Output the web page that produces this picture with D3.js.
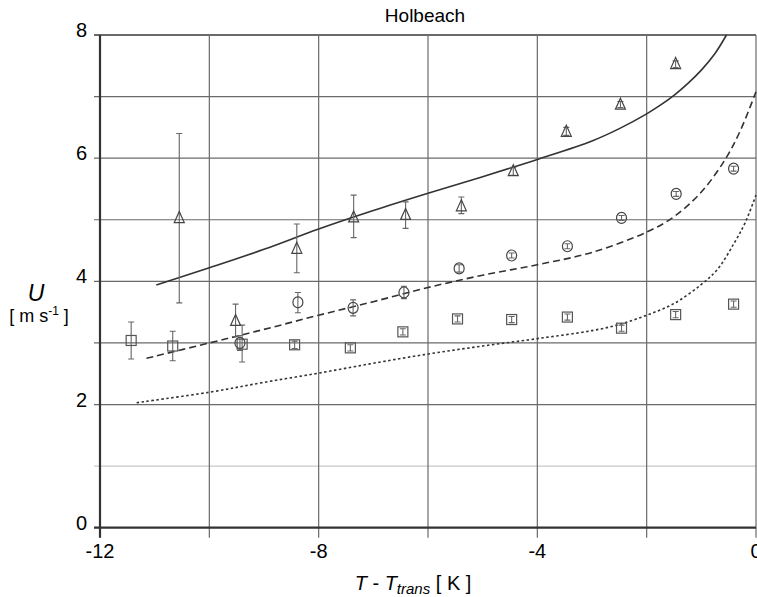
<!DOCTYPE html>
<html>
<head>
<meta charset="utf-8">
<script src="https://cdn.jsdelivr.net/npm/d3@7"></script>
<style>
	body { margin: 0; background: #fff; }
	svg { display: block; font-family: "Liberation Sans", Arial, sans-serif; }
</style>
</head>
<body>
<svg id="chart" width="757" height="597"></svg>
<script>
// measured points: [x, U, lo, hi]
let triangles = [
	[-10.55, 5.02, 3.65, 6.40],
	[-9.52, 3.35, 3.10, 3.63],
	[-8.40, 4.52, 4.14, 4.93],
	[-7.36, 5.03, 4.71, 5.40],
	[-6.41, 5.07, 4.86, 5.29],
	[-5.39, 5.21, 5.10, 5.37],
	[-4.44, 5.78, 5.72, 5.85],
	[-3.47, 6.42, 6.37, 6.50],
	[-2.48, 6.86, 6.82, 6.92],
	[-1.47, 7.52, 7.47, 7.58]
];
let circles = [
	[-9.44, 3.00, 2.88, 3.12],
	[-8.38, 3.66, 3.49, 3.82],
	[-7.37, 3.57, 3.44, 3.70],
	[-6.44, 3.82, 3.72, 3.92],
	[-5.43, 4.21, 4.15, 4.27],
	[-4.47, 4.42, 4.38, 4.46],
	[-3.45, 4.57, 4.53, 4.61],
	[-2.46, 5.03, 4.99, 5.07],
	[-1.46, 5.42, 5.38, 5.46],
	[-0.41, 5.83, 5.79, 5.87]
];
let squares = [
	[-11.43, 3.04, 2.74, 3.34],
	[-10.67, 2.95, 2.71, 3.19],
	[-9.40, 2.98, 2.69, 3.29],
	[-8.44, 2.97, 2.91, 3.03],
	[-7.42, 2.92, 2.87, 2.97],
	[-6.46, 3.18, 3.13, 3.23],
	[-5.46, 3.39, 3.34, 3.44],
	[-4.47, 3.38, 3.33, 3.43],
	[-3.45, 3.42, 3.37, 3.47],
	[-2.46, 3.24, 3.19, 3.29],
	[-1.47, 3.46, 3.41, 3.51],
	[-0.41, 3.63, 3.58, 3.68]
];

// model curves
let solid_curve = [[-10.97, 3.94], [-10, 4.22], [-9, 4.52], [-8, 4.85], [-7, 5.15], [-6, 5.43],
	[-5, 5.70], [-4, 5.98], [-3, 6.28], [-2.5, 6.48], [-2, 6.72], [-1.75, 6.86], [-1.5, 7.02],
	[-1.25, 7.21], [-1, 7.43], [-0.75, 7.70], [-0.54, 8.0]];
let dashed_curve = [[-11.15, 2.75], [-10, 3.0], [-9, 3.22], [-8, 3.45], [-7, 3.67], [-6, 3.9],
	[-5, 4.1], [-4, 4.27], [-3, 4.47], [-2, 4.8], [-1.5, 5.05], [-1, 5.45], [-0.55, 6.0], [-0.28, 6.46], [0, 7.08]];
let dotted_curve = [[-11.33, 2.03], [-10, 2.2], [-9, 2.36], [-8, 2.51], [-7, 2.67], [-6, 2.82],
	[-5, 2.95], [-4, 3.07], [-3, 3.2], [-2.5, 3.3], [-2, 3.45], [-1.5, 3.64], [-1, 3.95], [-0.7, 4.2],
	[-0.4, 4.62], [-0.2, 4.95], [0, 5.4]];

let x_ticks = [-12, -8, -4, 0],
	y_ticks = [0, 2, 4, 6, 8],
	x_grid = [-12, -10, -8, -6, -4, -2, 0],
	y_grid = [1, 2, 3, 4, 5, 6, 7, 8];

let svg = d3.select('#chart'),
	x = d3.scaleLinear().domain([-12, 0]).range([100, 756]),
	y = d3.scaleLinear().domain([0, 8]).range([527.7, 35]);

// grid
svg.selectAll('.hgrid')
	.data(y_grid).enter()
	.append('line')
	.attr('x1', x(-12) - 6)
	.attr('x2', x(0))
	.attr('y1', d => y(d))
	.attr('y2', d => y(d))
	.attr('stroke', d => d == 1 ? '#c8c8c8' : '#6a6a6a')
	.attr('stroke-width', d => d == 8 ? 2 : 1.2);

svg.selectAll('.vgrid')
	.data(x_grid).enter()
	.append('line')
	.attr('x1', d => x(d))
	.attr('x2', d => x(d))
	.attr('y1', y(8))
	.attr('y2', y(0) + 10)
	.attr('stroke', '#6a6a6a')
	.attr('stroke-width', 1.2);

// axes lines
svg.append('line')
	.attr('x1', x(-12) - 6).attr('x2', x(0))
	.attr('y1', y(0)).attr('y2', y(0))
	.attr('stroke', '#333').attr('stroke-width', 2.2);
svg.append('line')
	.attr('x1', x(-12)).attr('x2', x(-12))
	.attr('y1', y(8)).attr('y2', y(0) + 10)
	.attr('stroke', '#333').attr('stroke-width', 2.2);

// tick labels
svg.selectAll('.ylab')
	.data(y_ticks).enter()
	.append('text')
	.attr('x', 87)
	.attr('y', d => y(d) + 2)
	.attr('text-anchor', 'end')
	.attr('font-size', 20)
	.text(d => d);

svg.selectAll('.xlab')
	.data(x_ticks).enter()
	.append('text')
	.attr('x', d => x(d))
	.attr('y', 558)
	.attr('text-anchor', 'middle')
	.attr('font-size', 20)
	.text(d => d);

// curves
let line = d3.line()
	.x(d => x(d[0]))
	.y(d => y(d[1]))
	.curve(d3.curveCatmullRom.alpha(0.5));

[[solid_curve, null], [dashed_curve, '7,4'], [dotted_curve, '2.5,2.5']].forEach(([data, dash]) => {
	svg.append('path')
		.datum(data)
		.attr('d', line)
		.attr('fill', 'none')
		.attr('stroke', '#333')
		.attr('stroke-width', 1.6)
		.attr('stroke-dasharray', dash);
});

// error bars + markers
function draw_series(data, shape) {
	let g = svg.append('g');
	g.selectAll('.err')
		.data(data).enter()
		.append('path')
		.attr('d', d => {
			let cx = x(d[0]), t = y(d[3]), b = y(d[2]);
			return `M${cx - 3},${t}H${cx + 3}M${cx},${t}V${b}M${cx - 3},${b}H${cx + 3}`;
		})
		.attr('fill', 'none')
		.attr('stroke', '#666')
		.attr('stroke-width', 1.1);

	let m = g.selectAll('.mark')
		.data(data).enter();
	if (shape == 'tri') {
		m.append('path')
			.attr('d', d => {
				let cx = x(d[0]), cy = y(d[1]);
				return `M${cx},${cy - 7}L${cx + 5},${cy + 4}L${cx - 5},${cy + 4}Z`;
			})
			.attr('fill', 'none').attr('stroke', '#444').attr('stroke-width', 1.2);
	} else if (shape == 'circ') {
		m.append('ellipse')
			.attr('cx', d => x(d[0]))
			.attr('cy', d => y(d[1]))
			.attr('rx', 5).attr('ry', 5.5)
			.attr('fill', 'none').attr('stroke', '#444').attr('stroke-width', 1.2);
	} else {
		m.append('rect')
			.attr('x', d => x(d[0]) - 5)
			.attr('y', d => y(d[1]) - 5)
			.attr('width', 10).attr('height', 10)
			.attr('fill', 'none').attr('stroke', '#555').attr('stroke-width', 1.2);
	}
}
draw_series(squares, 'sq');
draw_series(circles, 'circ');
draw_series(triangles, 'tri');

// titles
svg.append('text')
	.attr('x', 425).attr('y', 22)
	.attr('text-anchor', 'middle')
	.attr('font-size', 19)
	.text('Holbeach');

let xt = svg.append('text')
	.attr('x', 413).attr('y', 590)
	.attr('text-anchor', 'middle')
	.attr('font-size', 20);
xt.append('tspan').attr('font-style', 'italic').text('T');
xt.append('tspan').text(' - ');
xt.append('tspan').attr('font-style', 'italic').text('T');
xt.append('tspan').attr('font-style', 'italic').attr('font-size', 15).attr('dy', 4).text('trans');
xt.append('tspan').attr('dy', -4).text(' [ K ]');

svg.append('text')
	.attr('x', 36).attr('y', 301)
	.attr('text-anchor', 'middle')
	.attr('font-size', 23)
	.attr('font-style', 'italic')
	.text('U');

let yt = svg.append('text')
	.attr('x', 39).attr('y', 322)
	.attr('text-anchor', 'middle')
	.attr('font-size', 18);
yt.append('tspan').text('[ m s');
yt.append('tspan').attr('font-size', 12).attr('dy', -7).text('-1');
yt.append('tspan').attr('dy', 7).text(' ]');
</script>
</body>
</html>
